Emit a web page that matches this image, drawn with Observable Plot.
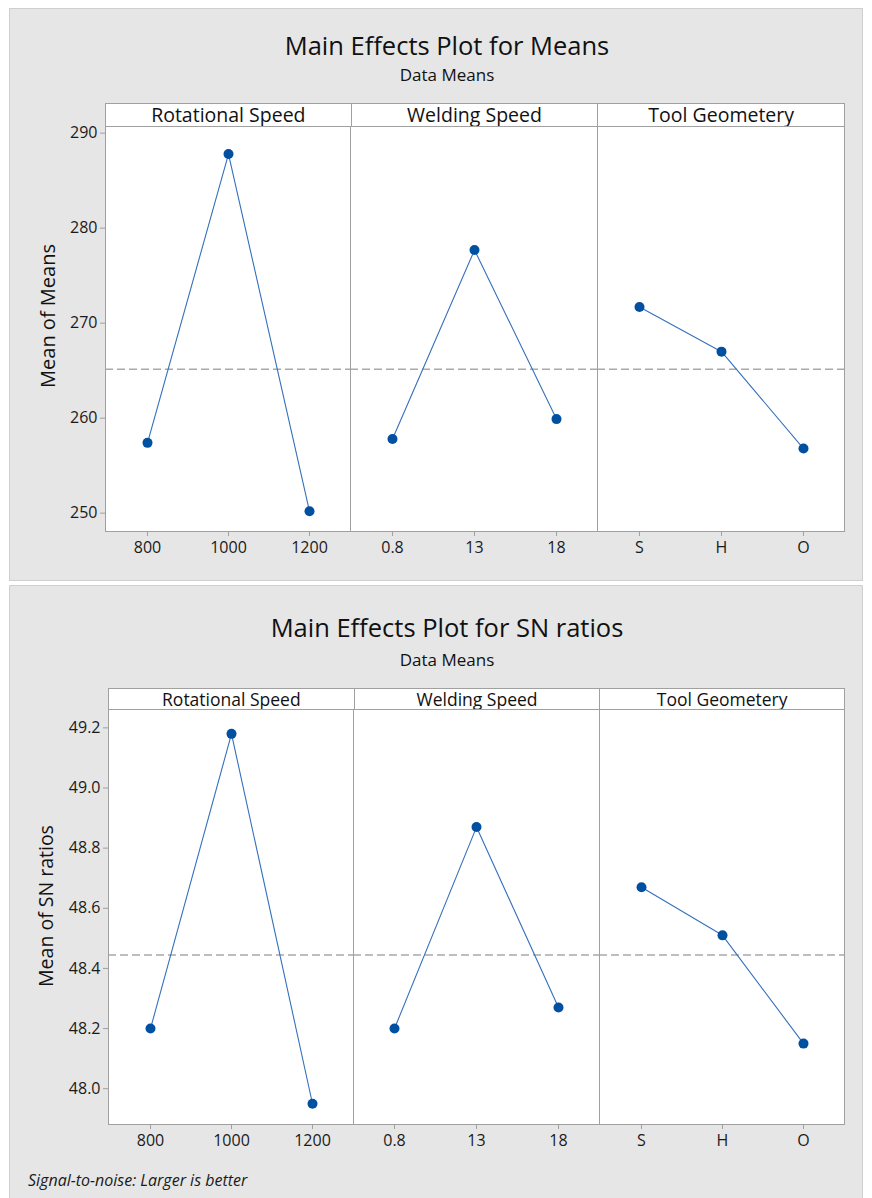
<!DOCTYPE html>
<html>
<head>
<meta charset="utf-8">
<script src="https://cdn.jsdelivr.net/npm/d3@7"></script>
<script src="https://cdn.jsdelivr.net/npm/@observablehq/plot@0.6"></script>
<style>
  body { margin: 0; background: #ffffff; font-family: "Open Sans", sans-serif; }
  #root { position: relative; width: 872px; height: 1198px; overflow: hidden; }
  .abs { position: absolute; }
  .panel { background: #e6e6e6; border: 1px solid #cfcfcf; box-sizing: border-box; }
  .title { color: #111; white-space: nowrap; transform: translate(-50%, -50%); }
  .strip { background: #fff; border: 1px solid #a0a0a0; box-sizing: border-box; display: flex; }
  .cell { box-sizing: border-box; text-align: center; color: #111; white-space: nowrap; }
  .ylab { color: #111; white-space: nowrap; transform: translate(-50%, -50%) rotate(-90deg); }
</style>
</head>
<body>
<div id="root"></div>
<script>
// ---------- data ----------
const factors = ["Rotational Speed", "Welding Speed", "Tool Geometery"];
const levelsRot = ["800", "1000", "1200"];
const levelsWeld = ["0.8", "13", "18"];
const levelsTool = ["S", "H", "O"];

const meansRot = [257.4, 287.8, 250.2];
const meansWeld = [257.8, 277.7, 259.9];
const meansTool = [271.7, 267.0, 256.8];

const snRot = [48.20, 49.18, 47.95];
const snWeld = [48.20, 48.87, 48.27];
const snTool = [48.67, 48.51, 48.15];

const ticksMeans = [250, 260, 270, 280, 290];
const ticksSN = [48.0, 48.2, 48.4, 48.6, 48.8, 49.0, 49.2];

// ---------- helpers ----------
const root = document.getElementById("root");
function place(el, left, top) {
  el.classList.add("abs");
  el.style.left = left + "px";
  el.style.top = top + "px";
  root.appendChild(el);
  return el;
}
function div(cls, text, css) {
  const d = document.createElement("div");
  d.className = cls;
  if (text != null) d.textContent = text;
  Object.assign(d.style, css || {});
  return d;
}

function facetPlot({levels, values, domain, ticks, fmt, grand, showY, span, marginLeft, frameH, marginBottom}) {
  const data = levels.map((l, i) => ({level: l, value: values[i]}));
  return Plot.plot({
    width: span + marginLeft + 1,
    height: frameH + 1 + marginBottom,
    marginLeft, marginRight: 1, marginTop: 1, marginBottom,
    style: {fontFamily: "Open Sans", fontSize: "16px", background: "transparent", overflow: "visible", color: "#1a1a1a"},
    x: {type: "point", domain: levels, padding: 0.5, label: null},
    y: {domain, label: null, axis: null},
    marks: [
      Plot.frame({fill: "#ffffff", stroke: "none"}),
      Plot.ruleY([grand], {stroke: "#a9a9a9", strokeWidth: 1.5, strokeDasharray: "8,4"}),
      Plot.line(data, {x: "level", y: "value", stroke: "#3470bd", strokeWidth: 1.1}),
      Plot.dot(data, {x: "level", y: "value", r: 5, fill: "#0050a2"}),
      Plot.frame({stroke: "#a0a0a0"}),
      Plot.axisX({tickSize: 5, tickPadding: 5, stroke: "#a0a0a0", fill: "#1a1a1a", label: null}),
      showY ? Plot.axisY({ticks, tickFormat: fmt, tickSize: 5, tickPadding: 3, stroke: "#a0a0a0", fill: "#1a1a1a", label: null}) : null
    ]
  });
}

function buildPanel(cfg) {
  place(div("panel", null, {width: cfg.panelW + "px", height: cfg.panelH + "px"}), cfg.panelX, cfg.panelY);
  place(div("title", cfg.title, {fontSize: cfg.titleSize + "px", fontWeight: 500}), cfg.titleX, cfg.titleY);
  place(div("title", cfg.subtitle, {fontSize: "17px", fontWeight: 500}), cfg.titleX, cfg.subY);

  const xs = cfg.bounds;
  const strip = div("strip", null, {width: (xs[3] - xs[0] + 1) + "px", height: (cfg.frameTop - cfg.stripTop + 1) + "px"});
  factors.forEach((f, i) => {
    const c = div("cell", f, {
      width: (xs[i + 1] - xs[i]) + "px",
      fontSize: cfg.stripSize + "px",
      fontWeight: cfg.stripWeight,
      lineHeight: (cfg.frameTop - cfg.stripTop - 1) + "px",
      borderLeft: i > 0 ? "1px solid #a0a0a0" : "none"
    });
    strip.appendChild(c);
  });
  place(strip, xs[0], cfg.stripTop);

  const levels = [levelsRot, levelsWeld, levelsTool];
  const frameH = cfg.frameBottom - cfg.frameTop;
  levels.forEach((lv, i) => {
    const ml = i === 0 ? 70 : 0;
    const svg = facetPlot({
      levels: lv, values: cfg.values[i], domain: cfg.domain, ticks: cfg.ticks, fmt: cfg.fmt,
      grand: cfg.grand, showY: i === 0, span: xs[i + 1] - xs[i], marginLeft: ml,
      frameH, marginBottom: 34
    });
    place(svg, xs[i] - ml, cfg.frameTop - 1);
  });

  place(div("ylab", cfg.ylabel, {fontSize: cfg.ylabSize + "px"}), cfg.ylabX, cfg.ylabY);
}

const allMeans = [...meansRot, ...meansWeld, ...meansTool];
const allSN = [...snRot, ...snWeld, ...snTool];

buildPanel({
  panelX: 9, panelY: 8, panelW: 854, panelH: 573,
  title: "Main Effects Plot for Means", titleSize: 25.5, titleX: 447, titleY: 45,
  subtitle: "Data Means", subY: 74,
  bounds: [105, 350, 597, 844], stripTop: 103, frameTop: 126, frameBottom: 531, stripSize: 19.5, stripWeight: 400,
  values: [meansRot, meansWeld, meansTool], domain: [248.07, 290.7], ticks: ticksMeans, fmt: d3.format("d"),
  grand: d3.mean(allMeans), ylabel: "Mean of Means", ylabX: 47, ylabY: 316, ylabSize: 20
});

buildPanel({
  panelX: 9, panelY: 585, panelW: 854, panelH: 620,
  title: "Main Effects Plot for SN ratios", titleSize: 25.5, titleX: 447, titleY: 627,
  subtitle: "Data Means", subY: 659,
  bounds: [108, 353, 599, 844], stripTop: 688, frameTop: 709, frameBottom: 1124, stripSize: 17.5, stripWeight: 500,
  values: [snRot, snWeld, snTool], domain: [47.881, 49.261], ticks: ticksSN, fmt: d3.format(".1f"),
  grand: d3.mean(allSN), ylabel: "Mean of SN ratios", ylabX: 45, ylabY: 906, ylabSize: 19.5
});

place(div("", "Signal-to-noise: Larger is better", {fontSize: "16px", fontStyle: "italic", color: "#1a1a1a", whiteSpace: "nowrap"}), 28, 1169);
</script>
</body>
</html>
